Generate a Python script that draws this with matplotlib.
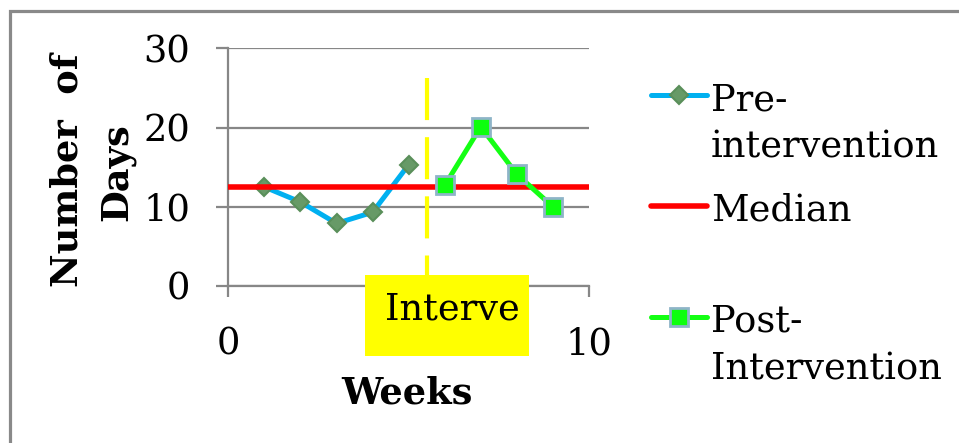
import matplotlib
matplotlib.use("Agg")
import matplotlib.pyplot as plt
from matplotlib.lines import Line2D
from matplotlib.patches import Rectangle

plt.rcParams['font.family'] = ['DejaVu Serif']

# Weekly counts of days before and after the intervention
weeks_pre = [1, 2, 3, 4, 5]
days_pre = [12.5, 10.6, 7.9, 9.3, 15.3]
weeks_post = [6, 7, 8, 9]
days_post = [12.7, 20.1, 14.1, 10.0]
median_weeks = [0, 10]
median_days = [12.5, 12.5]
intervention_week = 5.5
y_ticks = [0, 10, 20, 30]
x_ticks = [0, 10]

W, H = 959, 443
fig = plt.figure(figsize=(W / 100, H / 100), dpi=100)

GRAY = '#878787'
FS = 26.5

ax_l, ax_r, ax_t, ax_b = 228.3, 589, 48.3, 286
ax = fig.add_axes([ax_l / W, 1 - ax_b / H, (ax_r - ax_l) / W, (ax_b - ax_t) / H])
ax.set_xlim(0, 10)
ax.set_ylim(0, 30)
ax.set_yticks(y_ticks)
ax.set_xticks(x_ticks)
for s in ['top', 'right']:
    ax.spines[s].set_visible(False)
for s in ['left', 'bottom']:
    ax.spines[s].set_color(GRAY)
    ax.spines[s].set_linewidth(1.6)
ax.yaxis.grid(True, color=GRAY, linewidth=1.6)
ax.set_axisbelow(True)
ax.tick_params(axis='y', length=8.6, width=1.6, color=GRAY, pad=19, labelsize=FS)
ax.tick_params(axis='x', length=8, width=1.6, color=GRAY, pad=21, labelsize=FS)

pre_style = dict(color='#00B0F0', lw=3.6, marker='D', ms=9, mfc='#679A67',
                 mec='#5A8F5A', mew=1.5, solid_capstyle='round')
med_style = dict(color='#FF0000', lw=4.0, solid_capstyle='butt')
post_style = dict(color='#14FF14', lw=3.6, marker='s', ms=13, mfc='#0DFF0D',
                  mec='#8EB4C8', mew=2, solid_capstyle='round')

ax.plot(weeks_pre, days_pre, zorder=3, clip_on=False, **pre_style)
ax.plot(median_weeks, median_days, zorder=4, clip_on=False, **med_style)
ax.plot(weeks_post, days_post, zorder=5, clip_on=False, **post_style)

# Intervention marker: dashed vertical line
ax.plot([intervention_week, intervention_week], [26.3, -2], color='#FFFF00',
        lw=3.0, linestyle=(0, (10.1, 4.1)), zorder=2, clip_on=False,
        solid_capstyle='butt', dash_capstyle='butt')

# Overlay in pixel coordinates for border, titles, legend and label box
ov = fig.add_axes([0, 0, 1, 1], zorder=10)
ov.set_xlim(0, W)
ov.set_ylim(H, 0)
ov.axis('off')
ov.patch.set_alpha(0)

ov.plot([9.5, 9.5, W + 5], [H + 5, 10.5, 10.5], color='#898989', lw=2.3,
        solid_joinstyle='miter', clip_on=False)

ov.add_patch(Rectangle((365, 275), 164, 81, facecolor='#FFFF00', edgecolor='none'))
ov.text(385, 320, 'Interve', fontsize=FS, ha='left', va='baseline')

ov.text(407, 393, 'Weeks', fontsize=FS, fontweight='bold', ha='center', va='center')
ov.text(67, 170, 'Number  of', fontsize=FS, fontweight='bold', rotation=90,
        ha='center', va='center')
ov.text(117, 172, 'Days', fontsize=FS, fontweight='bold', rotation=90,
        ha='center', va='center')

# Legend
leg_x0, leg_x1, txt_x = 651, 707, 711
entries = [
    (95, pre_style, ['Pre-', 'intervention'], 110),
    (206, med_style, ['Median'], 220),
    (317, post_style, ['Post-', 'Intervention'], 332),
]
for y, style, lines, base in entries:
    line_only = {k: v for k, v in style.items()
                 if k not in ('marker', 'ms', 'mfc', 'mec', 'mew')}
    line_only['solid_capstyle'] = 'round'
    ov.add_line(Line2D([leg_x0, leg_x1], [y, y], **line_only))
    if 'marker' in style:
        ov.add_line(Line2D([(leg_x0 + leg_x1) / 2], [y], linestyle='none',
                           marker=style['marker'], ms=style['ms'], mfc=style['mfc'],
                           mec=style['mec'], mew=style['mew']))
    for i, t in enumerate(lines):
        ov.text(txt_x, base + 47 * i, t, fontsize=FS, ha='left', va='baseline')

fig.savefig('out.png', dpi=100)
